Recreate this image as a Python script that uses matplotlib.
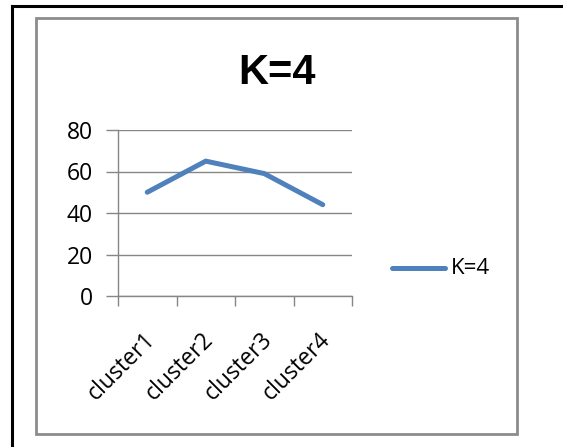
import matplotlib
matplotlib.use("Agg")
import matplotlib.pyplot as plt
from matplotlib.patches import Rectangle
from matplotlib.lines import Line2D

categories = ["cluster1", "cluster2", "cluster3", "cluster4"]
values = [50, 65, 59, 44]
series_name = "K=4"
yticks = [0, 20, 40, 60, 80]

W, H = 563, 447
fig = plt.figure(figsize=(W / 100, H / 100), dpi=100)

def fx(x):
    return x / W

def fy(y):
    return 1 - y / H

# outer black frame (top and left only visible)
fig.add_artist(Line2D([fx(12), fx(563)], [fy(6), fy(6)], color="black", lw=2.2))
fig.add_artist(Line2D([fx(12), fx(12)], [fy(6), fy(447)], color="black", lw=2.2))
# chart area gray border
fig.add_artist(Rectangle((fx(35.5), fy(434)), fx(517) - fx(35.5), fy(18) - fy(434),
                         fill=False, edgecolor="#8c8c8c", lw=2.0))

gray = "#868686"
ax = fig.add_axes([fx(118), fy(296), fx(352) - fx(118), fy(130) - fy(296)])
x = [i + 0.5 for i in range(len(categories))]
line, = ax.plot(x, values, color="#4F81BD", lw=3.6, solid_capstyle="round",
                solid_joinstyle="round", label=series_name)
ax.set_xlim(0, len(categories))
ax.set_ylim(0, 80)
ax.set_yticks(yticks)
ax.set_yticklabels([str(v) for v in yticks], fontsize=16.5, family="Open Sans")
ax.grid(axis="y", color=gray, lw=1.0)
ax.set_axisbelow(True)
ax.set_xticks(range(len(categories) + 1))
ax.set_xticklabels([])
ax.tick_params(axis="x", length=7, width=1.0, color=gray, direction="out")
ax.tick_params(axis="y", length=9, width=1.0, color=gray, direction="out", pad=9)
for s in ["top", "right"]:
    ax.spines[s].set_visible(False)
for s in ["left", "bottom"]:
    ax.spines[s].set_color(gray)
    ax.spines[s].set_linewidth(1.0)

for xi, c in zip(x, categories):
    ax.annotate(c, xy=(xi, 0), xycoords=("data", "axes fraction"),
                xytext=(-3, -23), textcoords="offset points",
                rotation=45, ha="right", va="top", fontsize=16.5,
                family="Open Sans", rotation_mode="anchor")

fig.text(fx(277), fy(73), "K=4", ha="center", va="center", fontsize=30,
         fontweight="bold", family="Liberation Sans")

# legend
fig.add_artist(Line2D([fx(392), fx(445)], [fy(268), fy(268)], color="#4F81BD",
                      lw=3.6, solid_capstyle="round"))
fig.text(fx(451), fy(268), series_name, ha="left", va="center", fontsize=16,
         family="Open Sans")

fig.savefig("out.png", dpi=100, facecolor="white")
